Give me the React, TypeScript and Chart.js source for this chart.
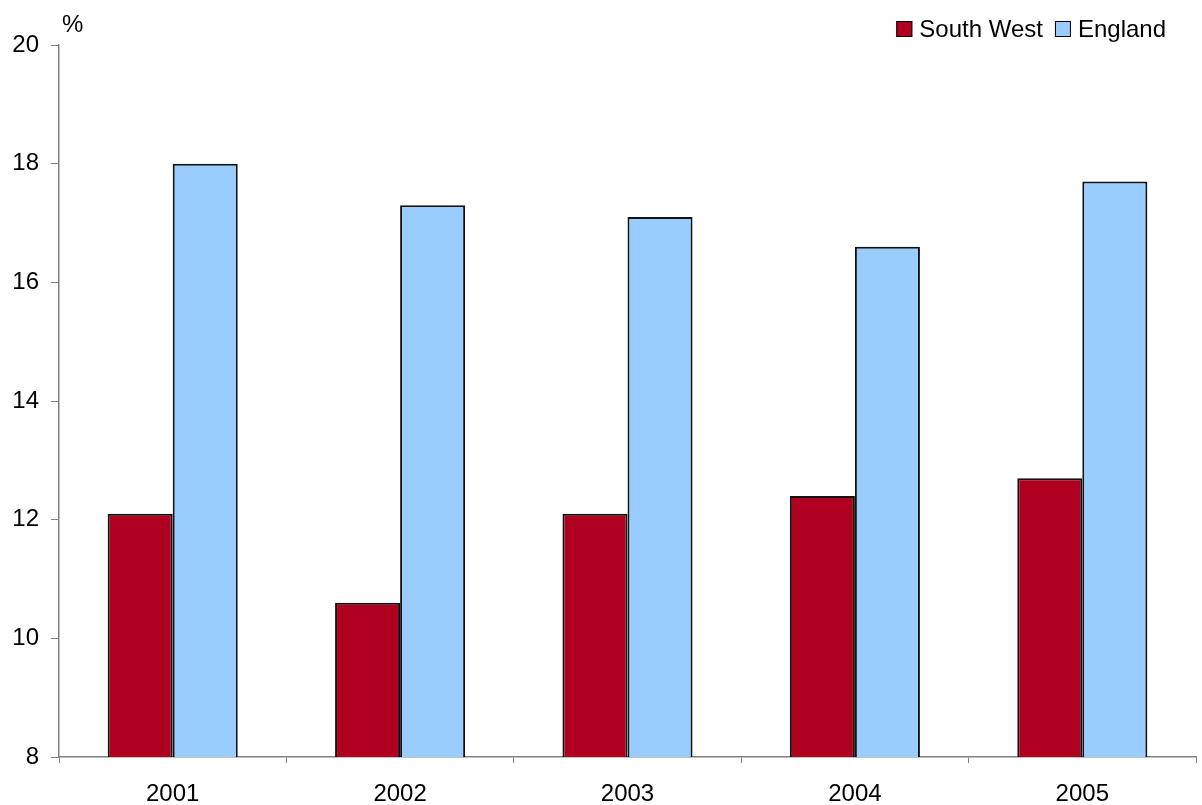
import { useEffect, useRef } from "react";
import { Chart, registerables } from "chart.js";

Chart.register(...registerables);

const years = ["2001", "2002", "2003", "2004", "2005"];
const southWest = [12.1, 10.6, 12.1, 12.4, 12.7];
const england = [18.0, 17.3, 17.1, 16.6, 17.7];
const yTicks = [8, 10, 12, 14, 16, 18, 20];
const seriesNames = ["South West", "England"];
const unitLabel = "%";

const FONT = '"Liberation Sans", Arial, sans-serif';
const AXIS_GREY = "#808080";

// Unit label above the value axis and a compact legend in the top-right corner.
const cornerText = {
  id: "cornerText",
  afterDraw(chart: any) {
    const ctx = chart.ctx as CanvasRenderingContext2D;
    const area = chart.chartArea;
    ctx.save();
    ctx.font = `24px ${FONT}`;
    ctx.fillStyle = "#000";
    ctx.textBaseline = "alphabetic";
    ctx.textAlign = "left";
    ctx.fillText(unitLabel, area.left + 3, area.top - 13);

    const box = 16;
    const textGap = 7;
    const itemGap = 12;
    const items = chart.data.datasets.map((d: any) => ({
      label: d.label as string,
      color: d.backgroundColor as string,
      w: ctx.measureText(d.label).width,
    }));
    const total =
      items.reduce((s: number, it: any) => s + box + textGap + it.w, 0) +
      itemGap * (items.length - 1);
    let x = chart.width - 36 - total;
    const baseline = 37;
    for (const it of items) {
      ctx.fillStyle = it.color;
      ctx.fillRect(x, baseline - 16, box, box);
      ctx.strokeStyle = "#000";
      ctx.lineWidth = 1;
      ctx.strokeRect(x + 0.5, baseline - 16 + 0.5, box - 1, box - 1);
      ctx.fillStyle = "#000";
      ctx.fillText(it.label, x + box + textGap, baseline);
      x += box + textGap + it.w + itemGap;
    }
    ctx.restore();
  },
};

export default function App() {
  const ref = useRef<HTMLCanvasElement | null>(null);

  useEffect(() => {
    if (!ref.current) return;
    Chart.defaults.font.family = FONT;
    const chart = new Chart(ref.current, {
      type: "bar",
      data: {
        labels: years,
        datasets: [
          {
            label: seriesNames[0],
            data: southWest,
            backgroundColor: "#B00020",
            borderColor: "#111",
            borderWidth: 2,
            categoryPercentage: 0.572,
            barPercentage: 1,
          },
          {
            label: seriesNames[1],
            data: england,
            backgroundColor: "#99CCFF",
            borderColor: "#111",
            borderWidth: 2,
            categoryPercentage: 0.572,
            barPercentage: 1,
          },
        ],
      },
      options: {
        responsive: false,
        animation: false,
        layout: { padding: { top: 45, right: 6, left: 0, bottom: 0 } },
        plugins: {
          legend: { display: false },
          tooltip: { enabled: false },
        },
        scales: {
          x: {
            grid: {
              offset: true,
              drawOnChartArea: false,
              drawTicks: true,
              tickLength: 6,
              color: AXIS_GREY,
            },
            border: { display: true, color: AXIS_GREY, width: 1.5 },
            ticks: {
              color: "#000",
              font: { size: 24, family: FONT },
              padding: 17,
            },
            afterFit(scale: any) {
              scale.height = 48;
            },
          },
          y: {
            min: yTicks[0],
            max: yTicks[yTicks.length - 1],
            afterBuildTicks(scale: any) {
              scale.ticks = yTicks.map((v) => ({ value: v }));
            },
            grid: {
              drawOnChartArea: false,
              drawTicks: true,
              tickLength: 8,
              color: AXIS_GREY,
            },
            border: { display: true, color: AXIS_GREY, width: 1.5 },
            ticks: {
              color: "#000",
              font: { size: 24, family: FONT },
              padding: 12,
            },
            afterFit(scale: any) {
              scale.width = 59;
            },
          },
        },
      },
      plugins: [cornerText],
    });
    return () => chart.destroy();
  }, []);

  return (
    <div style={{ position: "fixed", left: 0, top: 0, width: 1202, height: 805, background: "#fff" }}>
      <canvas ref={ref} width={1202} height={805} />
    </div>
  );
}
